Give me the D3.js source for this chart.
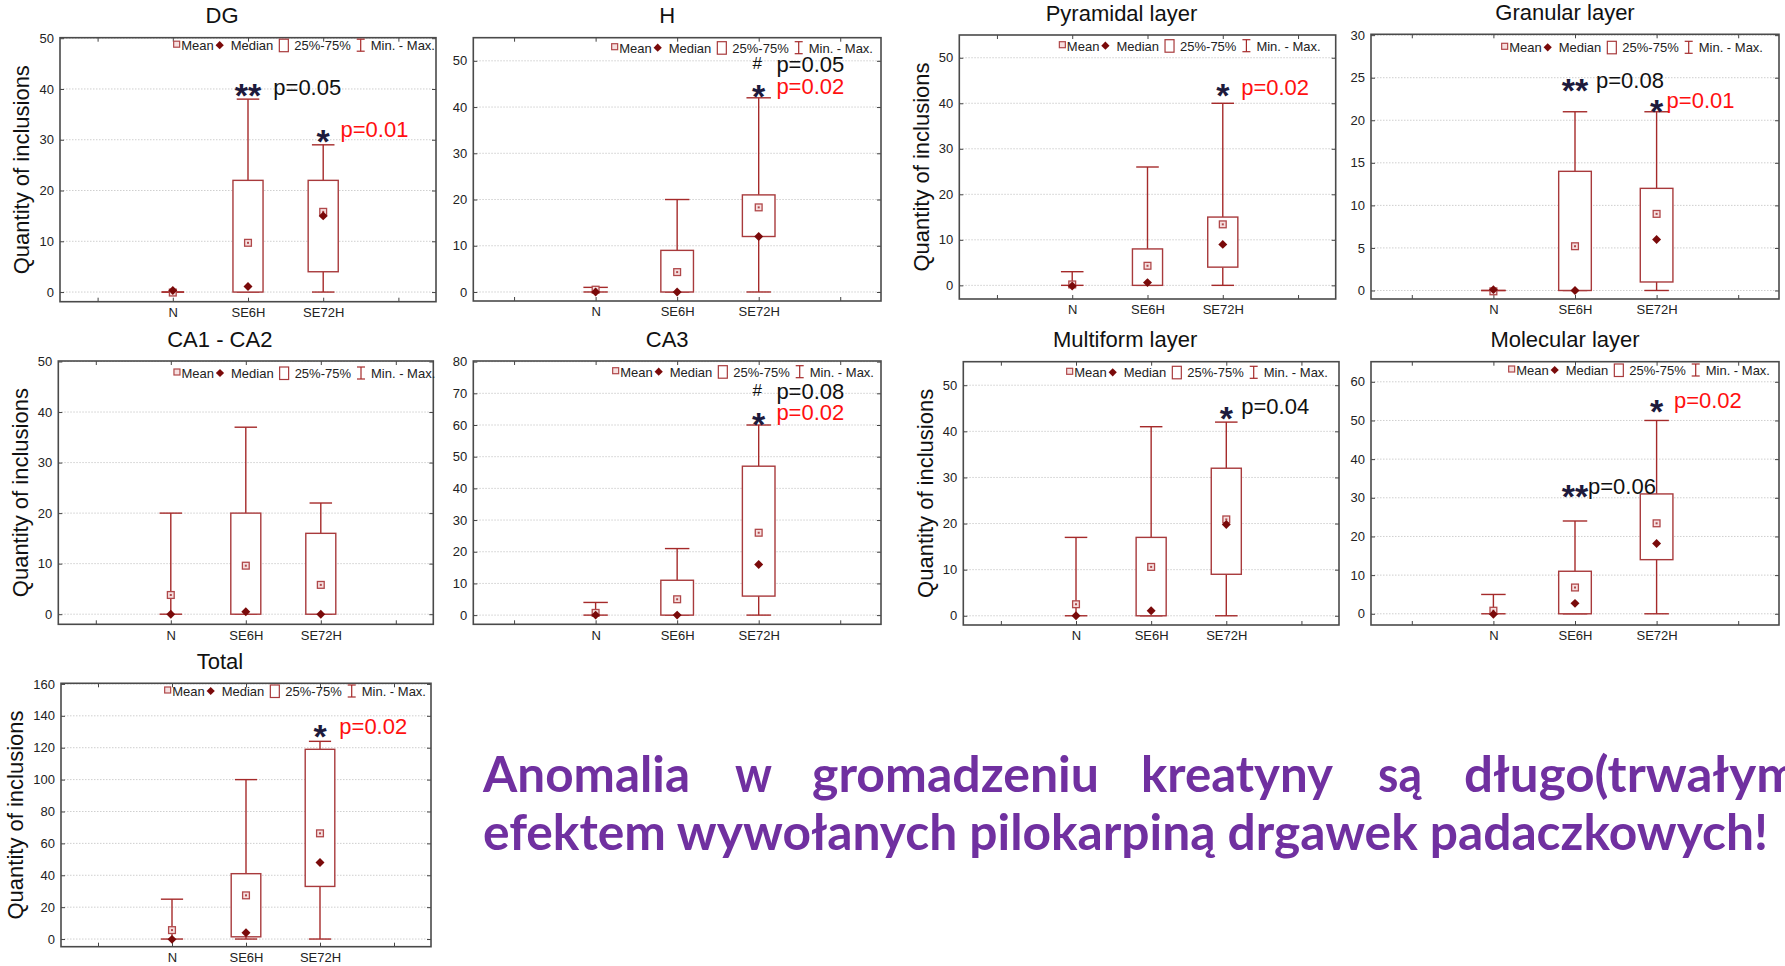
<!DOCTYPE html>
<html>
<head>
<meta charset="utf-8">
<script src="https://cdn.jsdelivr.net/npm/d3@7"></script>
<style>
body { margin: 0; background: #fff; }
svg { display: block; }
</style>
</head>
<body>
<div id="container"></div>
<script>
// ---- data ----
const categories = ["N", "SE6H", "SE72H"];
const panelTitles = ["DG", "H", "Pyramidal layer", "Granular layer", "CA1 - CA2", "CA3", "Multiform layer", "Molecular layer", "Total"];
const hasYTitle = [true, false, true, false, true, false, true, false, true];
const yTitleText = "Quantity of inclusions";

const minVals = [[0, 0, 0], [0, 0, 0], [0, 0, 0], [0, 0, 0], [0, 0, 0], [0, 0, 0], [0, 0, 0], [0, 0, 0], [0, 0, 0]];
const maxVals = [[0, 38, 29], [1, 20, 42], [3, 26, 40], [0, 21, 21], [20, 37, 22], [4, 21, 60], [17, 41, 42], [5, 24, 50], [25, 100, 124]];
const q1Vals = [[0, 0, 4], [0, 0, 12], [0, 0, 4], [0, 0, 1], [0, 0, 0], [0, 0, 6], [0, 0, 9], [0, 0, 14], [0, 1.4, 33]];
const q3Vals = [[0, 22, 22], [0, 9, 21], [0, 8, 15], [0, 14, 12], [0, 20, 16], [0, 11, 47], [0, 17, 32], [0, 11, 31], [0, 41, 119]];
const medianVals = [[0.3, 1.1, 15], [0, 0, 12], [-0.15, 0.6, 9], [0.1, 0, 6], [0, 0.5, 0], [0, 0, 16], [0, 1.1, 19.8], [-0.1, 2.7, 18.2], [-0.2, 4, 48]];
const meanVals = [[-0.1, 9.7, 15.8], [0.5, 4.3, 18.3], [0.2, 4.3, 13.4], [-0.1, 5.2, 9], [3.8, 9.6, 5.8], [0.7, 5, 26], [2.5, 10.6, 20.9], [0.8, 6.8, 23.4], [5.6, 27.4, 66.3]];

const yDomains = [[-1.9, 50.1], [-1.95, 55], [-3, 55], [-1, 30.1], [-2, 50.1], [-2.9, 80.2], [-2, 55.1], [-2.9, 65.2], [-4.8, 160.4]];
const yTicks = [
  [0, 10, 20, 30, 40, 50], [0, 10, 20, 30, 40, 50], [0, 10, 20, 30, 40, 50],
  [0, 5, 10, 15, 20, 25, 30], [0, 10, 20, 30, 40, 50], [0, 10, 20, 30, 40, 50, 60, 70, 80],
  [0, 10, 20, 30, 40, 50], [0, 10, 20, 30, 40, 50, 60], [0, 20, 40, 60, 80, 100, 120, 140, 160]
];

// significance notes: category index, mark, p text, red?, mark level, text level
const notes = [
  [[1, "**", "p=0.05", false, 40.2, 38.9], [2, "*", "p=0.01", true, 31.3, 30.5]],
  [[2, "#", "p=0.05", false, 49.5, 47.6], [2, "*", "p=0.02", true, 44.1, 42.8]],
  [[2, "*", "p=0.02", true, 43.4, 41.9]],
  [[1, "**", "p=0.08", false, 24.4, 23.8], [2, "*", "p=0.01", true, 22.0, 21.4]],
  [],
  [[2, "#", "p=0.08", false, 71.1, 68.2], [2, "*", "p=0.02", true, 62.6, 61.6]],
  [[2, "*", "p=0.04", false, 44.6, 43.8]],
  [[2, "*", "p=0.02", true, 54.5, 53.3], [1, "**", "p=0.06", false, 32.5, 31.1]],
  [[2, "*", "p=0.02", true, 132.2, 128.4]]
];

const line1Words = ["Anomalia", "w", "gromadzeniu", "kreatyny", "są", "długo(trwałym"];
const line2Text = "efektem wywołanych pilokarpiną drgawek padaczkowych!";

// ---- layout ----
const W = 1785, H = 966;
const frames = [ // left, top, right, bottom
  [60, 37.7, 436, 301.7], [473.3, 37.7, 881, 301], [959.3, 35, 1335.7, 299], [1371, 34.3, 1779, 299],
  [58.3, 361, 433.3, 624.3], [473.3, 361, 881, 624.3], [963.3, 361.7, 1339, 625], [1371, 361.7, 1779, 625],
  [61, 683.3, 431, 946.7]
];
const yTitleOff = [-31, 0, -30, 0, -30, 0, -30, 0, -38];
const legendInset = [1, 8, 15, 16, -2, 7, 11, 9, 5];
const legendDy = [12.5, 15, 15.7, 18, 17, 15.7, 15.6, 13.3, 12.7];
const noteDx = [[25.3, 17.3], [17.7, 17.7], [18.4], [21, 10], [], [17.7, 17.7], [15], [17.3, 13], [19.3]];
const line1X = [483, 735, 812, 1141, 1378, 1464];
const line1Len = [207, 37, 287, 192, 44, 335];

const font = "'Liberation Sans', Arial, sans-serif";
const boxCol = "#a83a3c";
const whiskCol = "#a52a2a";
const medCol = "#7a0a0a";

const svg = d3.select("#container").append("svg").attr("width", W).attr("height", H).style("background-color", "white");

frames.forEach((f, i) => {
  const [l, t, r, b] = f;
  const g = svg.append("g");
  const x = d3.scaleLinear().domain([0.5, 5.5]).range([l, r]);
  const y = d3.scaleLinear().domain(yDomains[i]).range([b, t]);
  const u = x(1) - x(0); // px per category slot

  // grid
  g.selectAll(".grid").data(yTicks[i]).enter().append("line")
    .attr("x1", l).attr("x2", r).attr("y1", d => y(d)).attr("y2", d => y(d))
    .attr("stroke", "#cfcfcf").attr("stroke-dasharray", "1.5,1.5").attr("stroke-width", 1);

  // axes (ticks pointing inward)
  const styleAxis = s => {
    s.select(".domain").remove();
    s.selectAll("line").attr("stroke", "#444");
    s.selectAll("text").attr("font-family", font).attr("font-size", 13).attr("fill", "#222");
  };
  g.append("g").attr("transform", `translate(${l},0)`)
    .call(d3.axisLeft(y).tickValues(yTicks[i]).tickSize(-4).tickPadding(6)).call(styleAxis);
  g.append("g").attr("transform", `translate(${r},0)`)
    .call(d3.axisRight(y).tickValues(yTicks[i]).tickSize(-4).tickFormat("")).call(styleAxis);
  g.append("g").attr("transform", `translate(0,${b})`)
    .call(d3.axisBottom(x).tickValues([1, 2, 3, 4, 5]).tickSize(-4).tickPadding(6).tickFormat(d => categories[d - 2] || "")).call(styleAxis);
  g.append("g").attr("transform", `translate(0,${t})`)
    .call(d3.axisTop(x).tickValues([1, 2, 3, 4, 5]).tickSize(-4).tickFormat("")).call(styleAxis);

  // frame
  g.append("rect").attr("x", l).attr("y", t).attr("width", r - l).attr("height", b - t)
    .attr("fill", "none").attr("stroke", "#4a4a4a").attr("stroke-width", 1.6);

  // boxes
  categories.forEach((c, k) => {
    const cx = x(k + 2);
    const bw = 0.4 * u, cw = 0.3 * u;
    const mn = minVals[i][k], mx = maxVals[i][k], q1 = q1Vals[i][k], q3 = q3Vals[i][k];
    const wg = g.append("g").attr("stroke", whiskCol).attr("stroke-width", 1.4);
    wg.append("line").attr("x1", cx).attr("x2", cx).attr("y1", y(mn)).attr("y2", y(q1));
    wg.append("line").attr("x1", cx).attr("x2", cx).attr("y1", y(q3)).attr("y2", y(mx));
    wg.append("line").attr("x1", cx - cw / 2).attr("x2", cx + cw / 2).attr("y1", y(mn)).attr("y2", y(mn));
    wg.append("line").attr("x1", cx - cw / 2).attr("x2", cx + cw / 2).attr("y1", y(mx)).attr("y2", y(mx));
    g.append("rect").attr("x", cx - bw / 2).attr("width", bw).attr("y", y(q3)).attr("height", Math.max(0, y(q1) - y(q3)))
      .attr("fill", "white").attr("fill-opacity", q3 > q1 ? 1 : 0).attr("stroke", boxCol).attr("stroke-width", 1.4);
    const my = y(meanVals[i][k]);
    g.append("rect").attr("x", cx - 3.4).attr("y", my - 3.4).attr("width", 6.8).attr("height", 6.8)
      .attr("fill", "#f6e0e0").attr("stroke", "#b0484a").attr("stroke-width", 1.3);
    g.append("rect").attr("x", cx - 1).attr("y", my - 1).attr("width", 2).attr("height", 2).attr("fill", "#b0484a");
    g.append("path").attr("d", d3.symbol(d3.symbolSquare, 40)())
      .attr("transform", `translate(${cx},${y(medianVals[i][k])}) rotate(45)`).attr("fill", medCol);
  });

  // legend
  const lg = g.append("g").attr("font-family", font).attr("font-size", 13).attr("fill", "#222");
  let px = 0;
  lg.append("rect").attr("x", px).attr("y", -9).attr("width", 6).attr("height", 6).attr("fill", "#f6e0e0").attr("stroke", "#b0484a").attr("stroke-width", 1.2);
  px += 7.5;
  let tx = lg.append("text").attr("x", px).text("Mean");
  px += tx.node().getComputedTextLength() + 6;
  lg.append("path").attr("d", d3.symbol(d3.symbolSquare, 34)()).attr("transform", `translate(${px},-5) rotate(45)`).attr("fill", medCol);
  px += 11;
  tx = lg.append("text").attr("x", px).text("Median");
  px += tx.node().getComputedTextLength() + 6;
  lg.append("rect").attr("x", px).attr("y", -11).attr("width", 9).attr("height", 12.5).attr("fill", "none").attr("stroke", boxCol).attr("stroke-width", 1.2);
  px += 15;
  tx = lg.append("text").attr("x", px).text("25%-75%");
  px += tx.node().getComputedTextLength() + 6;
  const wi = lg.append("g").attr("stroke", whiskCol).attr("stroke-width", 1.2);
  wi.append("line").attr("x1", px + 4).attr("x2", px + 4).attr("y1", -11).attr("y2", 1);
  wi.append("line").attr("x1", px).attr("x2", px + 8).attr("y1", -11).attr("y2", -11);
  wi.append("line").attr("x1", px).attr("x2", px + 8).attr("y1", 1).attr("y2", 1);
  px += 14;
  tx = lg.append("text").attr("x", px).text("Min. - Max.");
  px += tx.node().getComputedTextLength();
  lg.attr("transform", `translate(${r - legendInset[i] - px},${t + legendDy[i]})`);

  // titles
  g.append("text").attr("x", (l - (hasYTitle[i] ? 52 : 20) + r) / 2).attr("y", t - 14.5)
    .attr("text-anchor", "middle").attr("font-family", font).attr("font-size", 22).attr("fill", "#111")
    .text(panelTitles[i]);
  if (hasYTitle[i]) {
    g.append("text").attr("transform", `translate(${l + yTitleOff[i]},${(t + b) / 2}) rotate(-90)`)
      .attr("text-anchor", "middle").attr("font-family", font).attr("font-size", 22).attr("fill", "#111")
      .text(yTitleText);
  }

  // significance notes
  notes[i].forEach((n, j) => {
    const [k, mark, ptxt, red, sy, py] = n;
    const cx = x(k + 2);
    if (mark === "#") {
      g.append("text").attr("x", cx - 1.5).attr("y", y(sy) + 6).attr("text-anchor", "middle")
        .attr("font-family", font).attr("font-size", 17).attr("fill", "#111").text(mark);
    } else {
      g.append("text").attr("x", cx).attr("y", y(sy) + 19.5).attr("text-anchor", "middle")
        .attr("font-family", font).attr("font-size", 34).attr("font-weight", "bold").attr("fill", "#1d1a3c").text(mark);
    }
    g.append("text").attr("x", cx + noteDx[i][j]).attr("y", y(py))
      .attr("font-family", font).attr("font-size", 22).attr("fill", red ? "#ff1010" : "#111").text(ptxt);
  });
});

// caption
const cap = svg.append("g").attr("font-family", "Lato, 'Open Sans', sans-serif").attr("font-weight", 700)
  .attr("font-size", 50).attr("fill", "#7030a0");
line1Words.forEach((w, k) => {
  cap.append("text").attr("x", line1X[k]).attr("y", 791.5)
    .attr("textLength", line1Len[k]).attr("lengthAdjust", "spacingAndGlyphs").text(w);
});
cap.append("text").attr("x", 483).attr("y", 850)
  .attr("textLength", 1285).attr("lengthAdjust", "spacingAndGlyphs").text(line2Text);
</script>
</body>
</html>
